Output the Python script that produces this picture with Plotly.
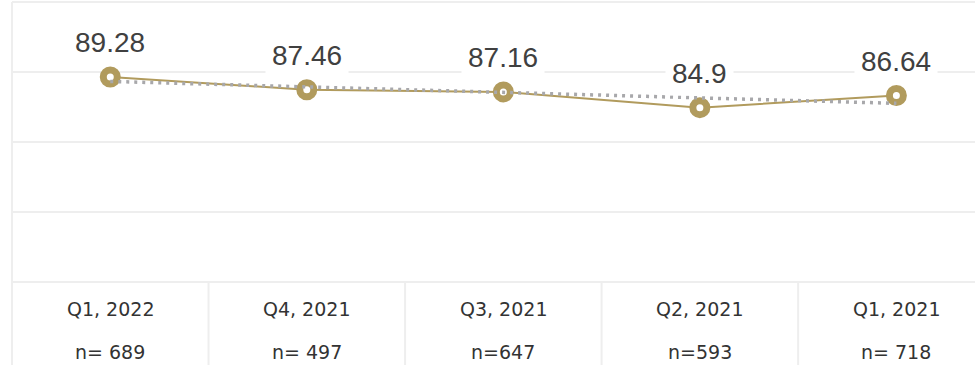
import numpy as np
import plotly.graph_objects as go

# Quarterly scores (most recent first) and sample sizes
quarters = ["Q1, 2022", "Q4, 2021", "Q3, 2021", "Q2, 2021", "Q1, 2021"]
sample_sizes = ["n= 689", "n= 497", "n=647", "n=593", "n= 718"]
scores = [89.28, 87.46, 87.16, 84.9, 86.64]

GOLD = "#b19b5d"
GRID = "#eeeeee"
DOT = "#a8a8ab"

x = np.arange(len(quarters))
slope, intercept = np.polyfit(x, scores, 1)
trend = slope * x + intercept

fig = go.Figure()

fig.add_trace(go.Scatter(
    x=x, y=scores, mode="lines+markers",
    line=dict(color=GOLD, width=2),
    marker=dict(size=14, color="white", line=dict(color=GOLD, width=7)),
    hoverinfo="skip", showlegend=False,
))

fig.add_trace(go.Scatter(
    x=x, y=trend, mode="lines",
    line=dict(color=DOT, width=3.5, dash="3px,5px"),
    hoverinfo="skip", showlegend=False,
))

# value labels above each point
for xi, v in zip(x, scores):
    fig.add_annotation(
        x=xi, y=v, xref="x", yref="y", text=f"{v:g}",
        showarrow=False, yanchor="bottom", yshift=12,
        font=dict(family="Liberation Sans, Arial", size=28, color="#404040"),
        bgcolor="white", borderpad=6,
    )

# category table under the plot
for xi, q, n in zip(x, quarters, sample_sizes):
    fig.add_annotation(x=xi, y=-0.097, xref="x", yref="paper", text=q,
                       showarrow=False, yanchor="middle",
                       font=dict(family="DejaVu Sans", size=19, color="#333333"))
    fig.add_annotation(x=xi, y=-0.25, xref="x", yref="paper", text=n,
                       showarrow=False, yanchor="middle",
                       font=dict(family="DejaVu Sans", size=19, color="#333333"))

shapes = []
for b in x[:-1] + 0.5:
    shapes.append(dict(type="line", xref="x", yref="paper", x0=b, x1=b,
                       y0=0, y1=-0.32, line=dict(color=GRID, width=2), layer="below"))
shapes.append(dict(type="line", xref="paper", yref="paper", x0=0, x1=0,
                   y0=-0.32, y1=1, line=dict(color=GRID, width=2), layer="below"))
shapes.append(dict(type="line", xref="paper", yref="paper", x0=0, x1=1,
                   y0=0, y1=0, line=dict(color=GRID, width=2), layer="below"))
shapes.append(dict(type="line", xref="paper", yref="paper", x0=0, x1=1,
                   y0=1, y1=1, line=dict(color=GRID, width=2), layer="below"))

fig.update_layout(
    width=975, height=365,
    margin=dict(l=12, r=0, t=2, b=83),
    paper_bgcolor="white", plot_bgcolor="white",
    shapes=shapes,
    xaxis=dict(range=[-0.5, 4.4], showgrid=False, zeroline=False,
               showticklabels=False, ticks="", fixedrange=True),
    yaxis=dict(range=[60, 100], dtick=10, showgrid=True, gridcolor=GRID,
               gridwidth=2, zeroline=False, showticklabels=False, ticks="",
               fixedrange=True),
)

fig.write_html("out.html")
